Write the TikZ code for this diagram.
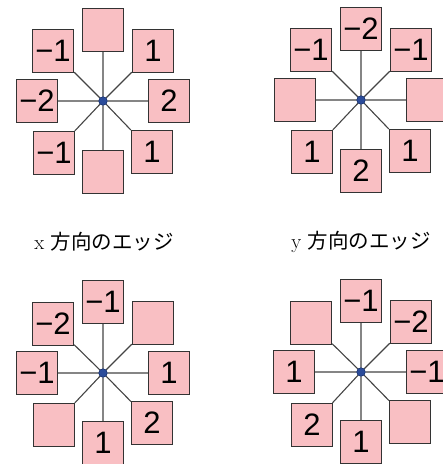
\documentclass[tikz,border=0pt]{standalone}
\usepackage{fontspec}
\newfontfamily\numfont{Liberation Sans}
\newfontfamily\jpfont{Noto Sans CJK JP}
\definecolor{boxpink}{HTML}{F9BFC3}
\definecolor{boxedge}{HTML}{333333}
\definecolor{spokegray}{HTML}{444444}
\definecolor{hubblue}{HTML}{2B4C9B}
\tikzset{
  kernel cell/.style={rectangle, fill=boxpink, draw=boxedge, line width=1.3pt,
    minimum width=41pt, minimum height=43pt, inner sep=0pt,
    font=\numfont\fontsize{31}{31}\selectfont},
  kernel spoke/.style={draw=spokegray, line width=1.1pt},
  kernel hub/.style={circle, fill=hubblue, draw=hubblue!70!black,
    line width=0.5pt, minimum size=8.5pt, inner sep=0pt},
  edge caption/.style={font=\fontsize{20.5}{24}\selectfont, text=black},
}

\begin{document}
\begin{tikzpicture}[x=1pt, y=-1pt]
  \useasboundingbox (0,0) rectangle (443,464);

  % Sobel kernel for the x direction.
  \begin{scope}[shift={(103,101)}]
    \node[kernel cell] (x-n)  at (0,-71)  {};
    \node[kernel cell] (x-ne) at (50,-50) {1};
    \node[kernel cell] (x-e)  at (66,0)   {2};
    \node[kernel cell] (x-se) at (49,51)  {1};
    \node[kernel cell] (x-s)  at (0,71)   {};
    \node[kernel cell] (x-sw) at (-49,52) {−1};
    \node[kernel cell] (x-w)  at (-66,0)  {−2};
    \node[kernel cell] (x-nw) at (-50,-50) {−1};
    \node[kernel hub] (x-c) at (0,0) {};
    \draw[kernel spoke] (x-c) -- (x-n) (x-c) -- (x-ne) (x-c) -- (x-e)
      (x-c) -- (x-se) (x-c) -- (x-s) (x-c) -- (x-sw) (x-c) -- (x-w)
      (x-c) -- (x-nw);
    \node[kernel hub] at (x-c) {};
    \node[edge caption] (x-cap) at (1,141) {x {\jpfont 方向のエッジ}};
  \end{scope}

  % Sobel kernel for the y direction.
  \begin{scope}[shift={(361,100)}]
    \node[kernel cell] (y-n)  at (0,-71)  {−2};
    \node[kernel cell] (y-ne) at (50,-50) {−1};
    \node[kernel cell] (y-e)  at (66,0)   {};
    \node[kernel cell] (y-se) at (49,51)  {1};
    \node[kernel cell] (y-s)  at (0,71)   {2};
    \node[kernel cell] (y-sw) at (-49,52) {1};
    \node[kernel cell] (y-w)  at (-66,0)  {};
    \node[kernel cell] (y-nw) at (-50,-50) {−1};
    \node[kernel hub] (y-c) at (0,0) {};
    \draw[kernel spoke] (y-c) -- (y-n) (y-c) -- (y-ne) (y-c) -- (y-e)
      (y-c) -- (y-se) (y-c) -- (y-s) (y-c) -- (y-sw) (y-c) -- (y-w)
      (y-c) -- (y-nw);
    \node[kernel hub] at (y-c) {};
    \node[edge caption] (y-cap) at (0,142) {y {\jpfont 方向のエッジ}};
  \end{scope}

  % Diagonal kernel, falling to the right.
  \begin{scope}[shift={(103,373)}]
    \node[kernel cell] (d-n)  at (0,-71)  {−1};
    \node[kernel cell] (d-ne) at (50,-50) {};
    \node[kernel cell] (d-e)  at (66,0)   {1};
    \node[kernel cell] (d-se) at (49,50)  {2};
    \node[kernel cell] (d-s)  at (0,70)   {1};
    \node[kernel cell] (d-sw) at (-49,52) {};
    \node[kernel cell] (d-w)  at (-66,0)  {−1};
    \node[kernel cell] (d-nw) at (-50,-49) {−2};
    \node[kernel hub] (d-c) at (0,0) {};
    \draw[kernel spoke] (d-c) -- (d-n) (d-c) -- (d-ne) (d-c) -- (d-e)
      (d-c) -- (d-se) (d-c) -- (d-s) (d-c) -- (d-sw) (d-c) -- (d-w)
      (d-c) -- (d-nw);
    \node[kernel hub] at (d-c) {};
  \end{scope}

  % Diagonal kernel, falling to the left.
  \begin{scope}[shift={(361,372)}]
    \node[kernel cell] (a-n)  at (0,-71)  {−1};
    \node[kernel cell] (a-ne) at (50,-50) {−2};
    \node[kernel cell] (a-e)  at (66,0)   {−1};
    \node[kernel cell] (a-se) at (49,50)  {};
    \node[kernel cell] (a-s)  at (0,70)   {1};
    \node[kernel cell] (a-sw) at (-49,53) {2};
    \node[kernel cell] (a-w)  at (-67,0)  {1};
    \node[kernel cell] (a-nw) at (-50,-49) {};
    \node[kernel hub] (a-c) at (0,0) {};
    \draw[kernel spoke] (a-c) -- (a-n) (a-c) -- (a-ne) (a-c) -- (a-e)
      (a-c) -- (a-se) (a-c) -- (a-s) (a-c) -- (a-sw) (a-c) -- (a-w)
      (a-c) -- (a-nw);
    \node[kernel hub] at (a-c) {};
  \end{scope}
\end{tikzpicture}
\end{document}
